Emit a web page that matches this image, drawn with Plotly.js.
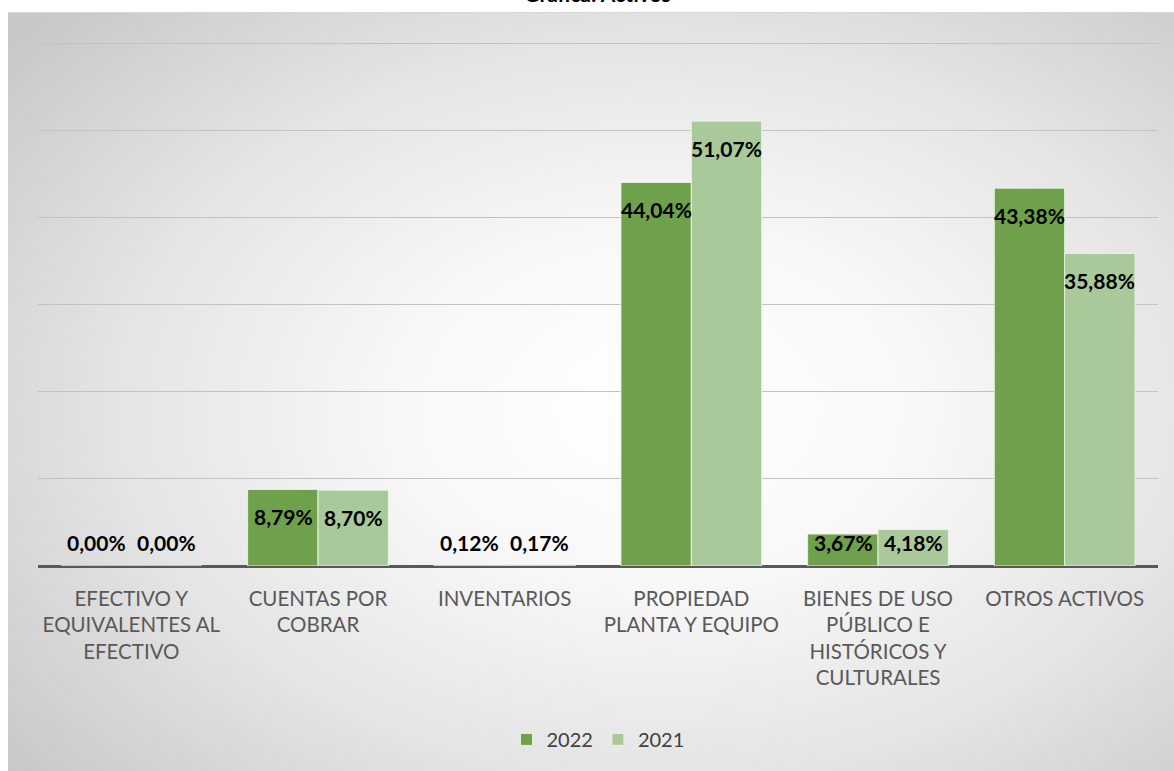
<!DOCTYPE html>
<html>
<head>
<meta charset="utf-8">
<script src="https://cdn.plot.ly/plotly-3.0.1.min.js"></script>
<style>
  html, body { margin: 0; padding: 0; background: #ffffff; }
  #wrap { position: relative; width: 1174px; height: 771px; overflow: hidden; }
  #bg {
    position: absolute; left: 8px; top: 12px; width: 1166px; height: 759px;
    background: radial-gradient(ellipse 72% 75% at 56% 52%, #ffffff 0%, #f8f8f8 30%, #e4e4e4 65%, #c8c8c8 100%);
    border-top: 1px solid #d6d6d6;
  }
  #chart { position: absolute; left: 0; top: 0; width: 1174px; height: 771px; }
</style>
</head>
<body>
<div id="wrap">
  <div id="bg"></div>
  <div id="chart"></div>
</div>
<script>
const categories = [
  "EFECTIVO Y EQUIVALENTES AL EFECTIVO",
  "CUENTAS POR COBRAR",
  "INVENTARIOS",
  "PROPIEDAD PLANTA Y EQUIPO",
  "BIENES DE USO PÚBLICO E HISTÓRICOS Y CULTURALES",
  "OTROS ACTIVOS"
];
const tickLabels = [
  "EFECTIVO Y<br>EQUIVALENTES AL<br>EFECTIVO",
  "CUENTAS POR<br>COBRAR",
  "INVENTARIOS",
  "PROPIEDAD<br>PLANTA Y EQUIPO",
  "BIENES DE USO<br>PÚBLICO E<br>HISTÓRICOS Y<br>CULTURALES",
  "OTROS ACTIVOS"
];
const seriesNames = ["2022", "2021"];
const values2022 = [0.00, 8.79, 0.12, 44.04, 3.67, 43.38];
const values2021 = [0.00, 8.70, 0.17, 51.07, 4.18, 35.88];

const colors = ["#6fa04b", "#a9c99a"];
const FONT = "Lato, 'Noto Sans', sans-serif";

const seriesValues = [values2022, values2021];
const traces = seriesValues.map((vals, s) => ({
  type: "bar",
  name: seriesNames[s],
  x: categories,
  y: vals,
  marker: { color: colors[s], line: { color: "rgba(235,245,228,0.9)", width: 1 } },
  hoverinfo: "skip"
}));

function fmt(v) { return v.toFixed(2).replace(".", ",") + "%"; }

const annotations = [];
seriesValues.forEach((vals, s) => {
  vals.forEach((v, i) => {
    annotations.push({
      x: categories[i], y: Math.max(v - 3.1, 2.75),
      xref: "x", yref: "y",
      text: "<b>" + fmt(v) + "</b>",
      showarrow: false,
      xshift: s === 0 ? -35 : 35,
      yanchor: "middle", xanchor: "center",
      font: { family: FONT, size: 21, color: "#000000" }
    });
  });
});

const layout = {
  width: 1174, height: 771,
  paper_bgcolor: "rgba(0,0,0,0)",
  plot_bgcolor: "rgba(0,0,0,0)",
  margin: { l: 38, r: 16, t: 39, b: 205 },
  barmode: "group",
  bargap: 0.246,
  bargroupgap: 0.0,
  title: {
    text: "<b>Gráfica: Activos</b>",
    font: { family: FONT, size: 21, color: "#000000" },
    x: 0.509, xanchor: "center",
    y: 0.997, yanchor: "bottom", yref: "container"
  },
  xaxis: {
    tickvals: categories,
    ticktext: tickLabels,
    tickfont: { family: FONT, size: 20.5, color: "#595959" },
    ticklabelstandoff: 18,
    showgrid: false, showline: false, ticks: "",
    fixedrange: true
  },
  yaxis: {
    range: [0, 60.5],
    tickvals: [10, 20, 30, 40, 50, 60],
    showticklabels: false,
    gridcolor: "#c2c2c2", gridwidth: 1,
    zeroline: true, zerolinecolor: "#595959", zerolinewidth: 3,
    showline: false, ticks: "",
    fixedrange: true
  },
  showlegend: true,
  legend: {
    orientation: "h",
    x: 0.5, xanchor: "center",
    y: -0.329, yanchor: "middle",
    font: { family: FONT, size: 20, color: "#404040" },
    bgcolor: "rgba(0,0,0,0)"
  },
  annotations: annotations
};

Plotly.newPlot("chart", traces, layout, { displayModeBar: false, staticPlot: true });
</script>
</body>
</html>
